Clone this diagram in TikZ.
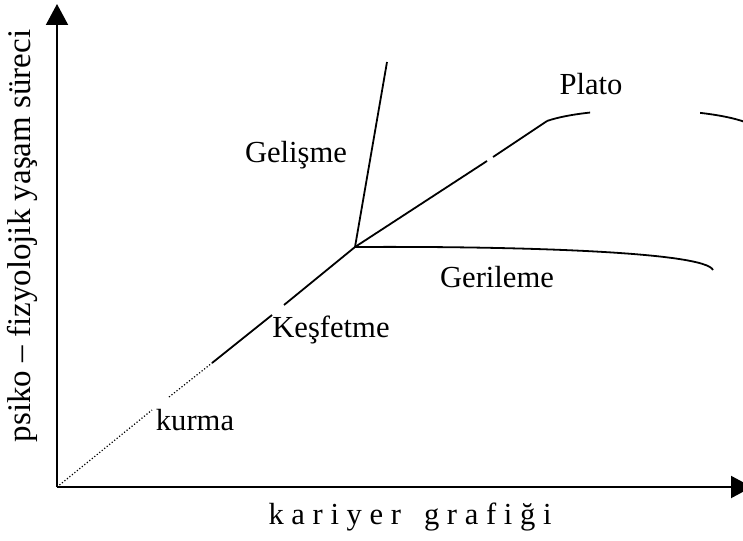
\documentclass[tikz,border=0pt]{standalone}
\usepackage{fontspec}
\setmainfont{Liberation Serif}
\usetikzlibrary{arrows.meta}
\begin{document}
\begin{tikzpicture}[x=1pt,y=-1pt,
  axis/.style={line width=2pt},
  curve/.style={line width=1.8pt},
  dotline/.style={line width=1.2pt, dash pattern=on 1.2pt off 2pt},
  lbl/.style={font=\fontsize{30.6}{36}\selectfont, inner sep=0pt, anchor=base}]
\useasboundingbox (0,0) rectangle (743,540);
% coordinates
\coordinate (O) at (57,487);
\coordinate (Ytop) at (57,4);
\coordinate (Xend) at (752,487);
\coordinate (d1) at (152,410);
\coordinate (d2) at (169,397);
\coordinate (s1) at (212,363);
\coordinate (s2) at (272,315);
\coordinate (s3) at (284,305);
\coordinate (J) at (355,247);
\coordinate (G) at (387,62);
\coordinate (p1) at (487,161);
\coordinate (p2) at (493,157);
\coordinate (A) at (547,121);
\coordinate (Aend) at (745,122);
\coordinate (R) at (713,270);
% axes
\draw[axis, -{Triangle[width=22pt,length=21pt]}] (O) -- (Ytop);
\draw[axis, -{Triangle[width=22pt,length=21pt]}] (O) -- (Xend);
% kurma (dotted)
\draw[dotline] (O) -- (d1);
\draw[dotline] (d2) -- (s1);
% kesfetme
\draw[curve] (s1) -- (s2);
\draw[curve] (s3) -- (J);
% gelisme
\draw[curve] (J) -- (G);
% plato line
\draw[curve] (J) -- (p1);
\draw[curve] (p2) -- (A);
% plato arc (two visible pieces)
\begin{scope}
\clip (540,90) rectangle (590,130);
\draw[curve] (A) .. controls (590,106) and (700,106) .. (Aend);
\end{scope}
\begin{scope}
\clip (700,90) rectangle (760,130);
\draw[curve] (A) .. controls (590,106) and (700,106) .. (Aend);
\end{scope}
% gerileme
\draw[curve] (J) .. controls (520,246) and (705,252) .. (R);
% labels
\node[lbl] (lgel) at (296,162) {Gelişme};
\node[lbl] (lpla) at (591,95) {Plato};
\node[lbl] (lger) at (497,287) {Gerileme};
\node[lbl] (lkes) at (331,337) {Keşfetme};
\node[lbl] (lkur) at (195,430) {kurma};
\node[font=\fontsize{33}{39}\selectfont, inner sep=0pt, rotate=90] (ylab) at (22,236) {psiko – fizyolojik yaşam süreci};
\node[font=\fontsize{30.6}{36}\selectfont, inner sep=0pt] (xlab) at (410,517) {k a r i y e r \ \ g r a f i ğ i};
\end{tikzpicture}
\end{document}
